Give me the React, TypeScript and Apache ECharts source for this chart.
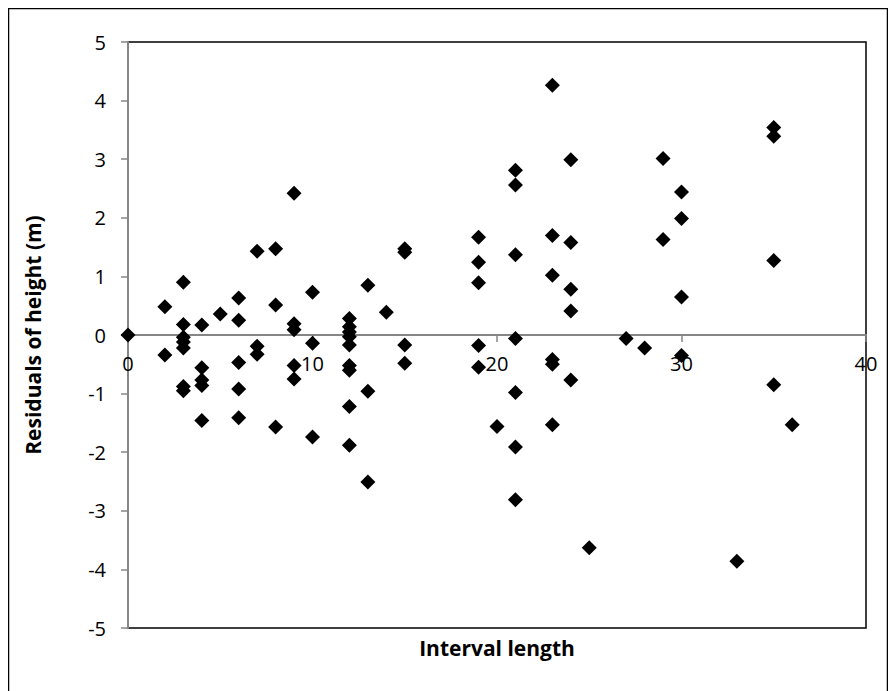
import React, { useEffect, useRef } from "react";
import * as echarts from "echarts";

const intervalLengths: number[] = [
  0,
  2, 2,
  3, 3, 3, 3, 3, 3, 3,
  4, 4, 4, 4, 4,
  5,
  6, 6, 6, 6, 6,
  7, 7, 7,
  8, 8, 8,
  9, 9, 9, 9, 9,
  10, 10, 10,
  12, 12, 12, 12, 12, 12, 12, 12, 12,
  13, 13, 13,
  14,
  15, 15, 15, 15,
  19, 19, 19, 19, 19,
  20,
  21, 21, 21, 21, 21, 21, 21,
  23, 23, 23, 23, 23, 23,
  24, 24, 24, 24, 24,
  25,
  27,
  28,
  29, 29,
  30, 30, 30, 30,
  33,
  35, 35, 35, 35,
  36,
];

const residuals: number[] = [
  0,
  0.48, -0.34,
  0.9, 0.18, -0.04, -0.12, -0.22, -0.88, -0.95,
  0.17, -0.56, -0.77, -0.86, -1.46,
  0.36,
  0.63, 0.25, -0.47, -0.92, -1.41,
  1.43, -0.19, -0.33,
  1.47, 0.51, -1.57,
  2.42, 0.19, 0.09, -0.52, -0.75,
  0.73, -0.14, -1.74,
  0.28, 0.14, 0.05, -0.03, -0.17, -0.52, -0.6, -1.22, -1.88,
  0.85, -0.96, -2.51,
  0.39,
  1.47, 1.41, -0.17, -0.48,
  1.67, 1.24, 0.89, -0.18, -0.55,
  -1.56,
  2.81, 2.56, 1.37, -0.06, -0.98, -1.91, -2.81,
  4.26, 1.7, 1.02, -0.42, -0.5, -1.53,
  2.99, 1.58, 0.78, 0.41, -0.77,
  -3.63,
  -0.06,
  -0.22,
  3.01, 1.63,
  2.44, 1.99, 0.65, -0.35,
  -3.86,
  3.54, 3.39, 1.27, -0.85,
  -1.53,
];

const xTitle = "Interval length";
const yTitle = "Residuals of height (m)";

const FONT = "'Open Sans', sans-serif";

export default function App() {
  const ref = useRef<HTMLDivElement>(null);

  useEffect(() => {
    if (!ref.current) return;
    const chart = echarts.init(ref.current, null, { renderer: "svg" });
    const data = intervalLengths.map((x, i) => [x, residuals[i]]);
    chart.setOption({
      animation: false,
      backgroundColor: "#ffffff",
      textStyle: { fontFamily: FONT },
      grid: {
        left: 120,
        right: 22,
        top: 34,
        bottom: 63,
        show: true,
        borderColor: "#000000",
        borderWidth: 1.5,
        backgroundColor: "transparent",
      },
      xAxis: {
        type: "value",
        min: 0,
        max: 40,
        interval: 10,
        position: "bottom",
        offset: -293,
        axisLine: { onZero: false, lineStyle: { color: "#868686", width: 2 } },
        axisTick: { show: true, inside: false, length: 7, lineStyle: { color: "#868686", width: 1.5 } },
        axisLabel: { color: "#000000", fontSize: 20, fontFamily: FONT, margin: 18 },
        splitLine: { show: false },
      },
      yAxis: {
        type: "value",
        min: -5,
        max: 5,
        interval: 1,
        axisLine: { show: true, onZero: false, lineStyle: { color: "#868686", width: 2 } },
        axisTick: { show: true, inside: false, length: 7, lineStyle: { color: "#868686", width: 1.5 } },
        axisLabel: { color: "#000000", fontSize: 20, fontFamily: FONT, margin: 22 },
        splitLine: { show: false },
      },
      graphic: [
        {
          type: "rect",
          silent: true,
          shape: { x: 0.5, y: 0.5, width: 879, height: 720 },
          style: { fill: "none", stroke: "#000000", lineWidth: 1.5 },
        },
        {
          type: "text",
          x: 489,
          y: 640,
          style: {
            text: xTitle,
            fontFamily: FONT,
            fontSize: 21,
            fontWeight: "bold",
            fill: "#000000",
            align: "center",
            verticalAlign: "middle",
          },
        },
        {
          type: "text",
          x: 25,
          y: 327,
          rotation: Math.PI / 2,
          style: {
            text: yTitle,
            fontFamily: FONT,
            fontSize: 21,
            fontWeight: "bold",
            fill: "#000000",
            align: "center",
            verticalAlign: "middle",
          },
        },
      ],
      series: [
        {
          type: "scatter",
          data,
          symbol: "diamond",
          symbolSize: 15,
          itemStyle: { color: "#000000", opacity: 1 },
          z: 5,
        },
      ],
    });
    return () => chart.dispose();
  }, []);

  return (
    <div
      ref={ref}
      style={{ width: 880, height: 683, overflow: "hidden", background: "#fff" }}
    />
  );
}
